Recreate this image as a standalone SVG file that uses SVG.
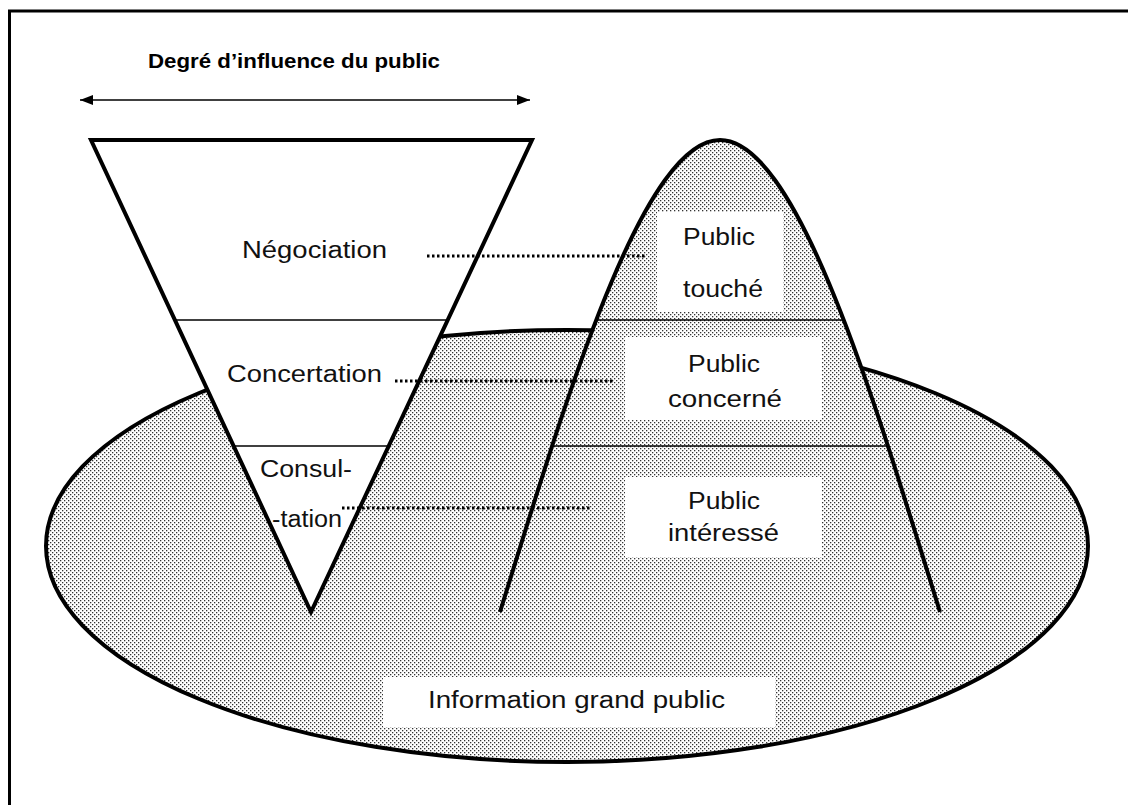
<svg xmlns="http://www.w3.org/2000/svg" width="1128" height="805" viewBox="0 0 1128 805">
<style>
  .lbl { font-family: "Liberation Sans", Arial, sans-serif; font-size: 23px; fill: #111; }
  .ttl { font-family: "Liberation Sans", Arial, sans-serif; font-size: 20px; font-weight: bold; fill: #000; }
  .thick { fill: none; stroke: #000; stroke-width: 4; stroke-linejoin: miter; }
  .thin { stroke: #000; stroke-width: 1.5; fill: none; }
  .dots { stroke: #000; stroke-width: 3; stroke-dasharray: 2.5 2.5; fill: none; }
  .box { fill: #fff; stroke: none; }
</style>
<defs>
  <pattern id="halftone" patternUnits="userSpaceOnUse" width="4" height="4">
    <rect width="4" height="4" fill="#fff"/>
    <rect x="0" y="0" width="1.3" height="1.3" fill="#333"/>
    <rect x="2" y="2" width="1.3" height="1.3" fill="#333"/>
  </pattern>
  <marker id="arrowhead" viewBox="0 0 13 10" refX="13" refY="5" markerWidth="13" markerHeight="10" markerUnits="userSpaceOnUse" orient="auto-start-reverse">
    <path d="M0,0 L13,5 L0,10 z" fill="#000"/>
  </marker>
</defs>
<rect width="1128" height="805" fill="#fff"/>
<g id="frame">
  <rect x="9.5" y="11" width="1300" height="1000" fill="none" stroke="#000" stroke-width="3"/>
</g>
<g id="title">
  <text class="ttl" x="148" y="68" textLength="292" lengthAdjust="spacingAndGlyphs">Degré d’influence du public</text>
  <line x1="80" y1="100" x2="530" y2="100" stroke="#000" stroke-width="1.5" marker-start="url(#arrowhead)" marker-end="url(#arrowhead)"/>
</g>
<g id="grand-public">
  <ellipse cx="567" cy="546" rx="521" ry="216" fill="url(#halftone)" stroke="#000" stroke-width="4"/>
</g>
<g id="triangle">
  <polygon points="91,140 532,140 311,612" fill="#fff" stroke="#000" stroke-width="4"/>
  <line class="thin" x1="175" y1="320" x2="448" y2="320"/>
  <line class="thin" x1="234" y1="446" x2="389" y2="446"/>
  <text class="lbl" x="242" y="258" textLength="145" lengthAdjust="spacingAndGlyphs">Négociation</text>
  <text class="lbl" x="227" y="382" textLength="155" lengthAdjust="spacingAndGlyphs">Concertation</text>
  <text class="lbl" x="260" y="477" textLength="92" lengthAdjust="spacingAndGlyphs">Consul-</text>
  <text class="lbl" x="272" y="527" textLength="70" lengthAdjust="spacingAndGlyphs">-tation</text>
</g>
<g id="mountain">
  <path d="M500,612 C560,420 640,140 720,140 C800,140 880,420 940,612 Z" fill="url(#halftone)" stroke="none"/>
  <path class="thick" d="M500,612 C560,420 640,140 720,140 C800,140 880,420 940,612"/>
  <line class="thin" x1="598" y1="320" x2="845" y2="320"/>
  <line class="thin" x1="553" y1="446" x2="887" y2="446"/>
</g>
<g id="public-touche">
  <rect class="box" x="657" y="212" width="126" height="100"/>
  <text class="lbl" x="683" y="245" textLength="72" lengthAdjust="spacingAndGlyphs">Public</text>
  <text class="lbl" x="683" y="297" textLength="80" lengthAdjust="spacingAndGlyphs">touché</text>
</g>
<g id="public-concerne">
  <rect class="box" x="625" y="337" width="197" height="83"/>
  <text class="lbl" x="688" y="372" textLength="72" lengthAdjust="spacingAndGlyphs">Public</text>
  <text class="lbl" x="668" y="407" textLength="114" lengthAdjust="spacingAndGlyphs">concerné</text>
</g>
<g id="public-interesse">
  <rect class="box" x="625" y="477" width="197" height="80"/>
  <text class="lbl" x="688" y="509" textLength="72" lengthAdjust="spacingAndGlyphs">Public</text>
  <text class="lbl" x="668" y="541" textLength="111" lengthAdjust="spacingAndGlyphs">intéressé</text>
</g>
<g id="information-grand-public">
  <rect class="box" x="383" y="677" width="392" height="50"/>
  <text class="lbl" x="428" y="708" textLength="297" lengthAdjust="spacingAndGlyphs">Information grand public</text>
</g>
<g id="connectors">
  <line class="dots" x1="427" y1="256" x2="646" y2="256"/>
  <line class="dots" x1="395" y1="381" x2="614" y2="381"/>
  <line class="dots" x1="342" y1="508" x2="590" y2="508"/>
</g>
</svg>
